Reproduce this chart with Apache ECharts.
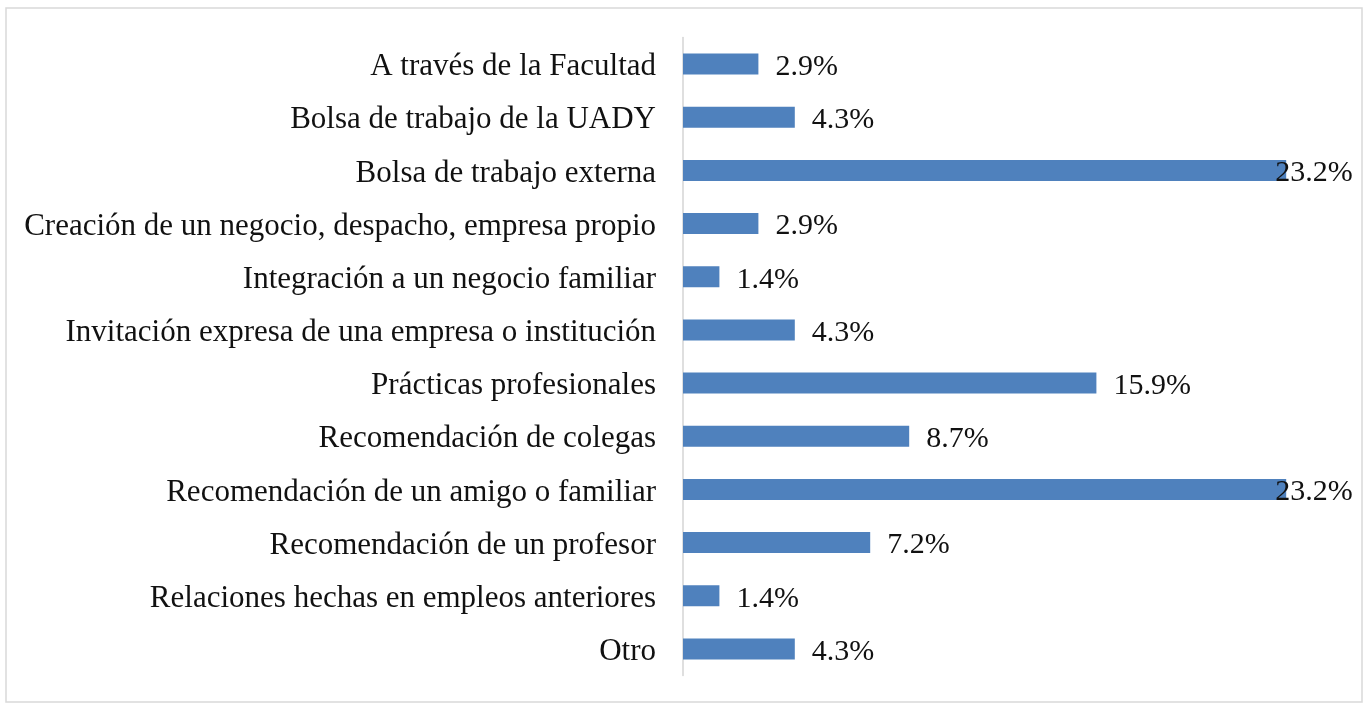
<!DOCTYPE html>
<html>
<head>
<meta charset="utf-8">
<script src="https://cdn.jsdelivr.net/npm/echarts@6/dist/echarts.min.js"></script>
<style>
  html, body { margin: 0; padding: 0; background: #fff; }
  #main { width: 1364px; height: 704px; }
</style>
</head>
<body>
<div id="main"></div>
<script>
var categories = [
  'A través de la Facultad',
  'Bolsa de trabajo de la UADY',
  'Bolsa de trabajo externa',
  'Creación de un negocio, despacho, empresa propio',
  'Integración a un negocio familiar',
  'Invitación expresa de una empresa o institución',
  'Prácticas profesionales',
  'Recomendación de colegas',
  'Recomendación de un amigo o familiar',
  'Recomendación de un profesor',
  'Relaciones hechas en empleos anteriores',
  'Otro'
];
var percents = [2.9, 4.3, 23.2, 2.9, 1.4, 4.3, 15.9, 8.7, 23.2, 7.2, 1.4, 4.3];

var font = '"Liberation Serif", "Times New Roman", serif';
var chart = echarts.init(document.getElementById('main'));

// bars near the right edge get their label pulled back inside, like Excel does
var barData = percents.map(function (v) {
  if (v > 20) {
    return { value: v, label: { offset: [-28, 3] } };
  }
  return v;
});

var option = {
  animation: false,
  backgroundColor: '#ffffff',
  graphic: [{
    type: 'rect',
    shape: { x: 6, y: 8, width: 1356, height: 694 },
    style: { fill: 'none', stroke: '#d9d9d9', lineWidth: 1.5 },
    silent: true
  }],
  grid: { left: 683, right: 31, top: 37.5, bottom: 28.5 },
  xAxis: {
    type: 'value',
    min: 0,
    max: 25,
    show: false
  },
  yAxis: {
    type: 'category',
    data: categories,
    inverse: true,
    axisLine: { show: true, lineStyle: { color: '#d4d4d4', width: 1.5 } },
    axisTick: { show: false },
    axisLabel: {
      margin: 27,
      formatter: function (v) { return '{t|' + v + '}'; },
      rich: {
        t: {
          color: '#111',
          fontFamily: font,
          fontSize: 31,
          padding: [6, 0, 0, 0]
        }
      }
    }
  },
  series: [{
    type: 'bar',
    data: barData,
    barWidth: 21,
    itemStyle: { color: '#4f81bd' },
    label: {
      show: true,
      position: 'right',
      distance: 17,
      offset: [0, 3],
      color: '#111',
      fontFamily: font,
      fontSize: 30,
      formatter: function (p) { return p.value.toFixed(1) + '%'; }
    }
  }]
};

chart.setOption(option);
</script>
</body>
</html>
